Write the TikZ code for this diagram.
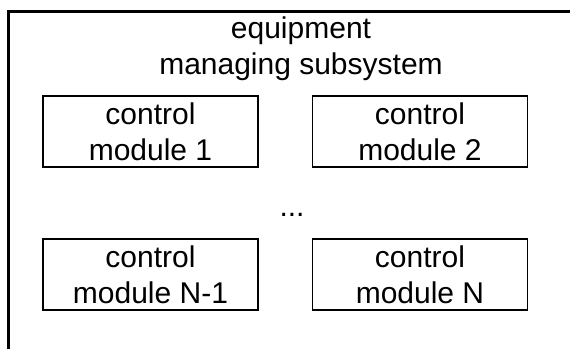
\documentclass[tikz,border=0pt]{standalone}
\usepackage{fontspec}
\setmainfont{Liberation Sans}
\begin{document}
\begin{tikzpicture}[x=1pt,y=-1pt,
  module/.style={draw, line width=1.8pt, minimum width=215pt, minimum height=71pt,
    inner sep=0pt, align=center, font=\fontsize{30}{36}\selectfont},
  label/.style={inner sep=0pt, align=center, font=\fontsize{30}{36}\selectfont}]
\useasboundingbox (0,0) rectangle (570,349);
% subsystem frame, running past the right and bottom edges
\draw[line width=2.4pt] (8.5,349) -- (8.5,11.5) -- (570,11.5);
\node[label] (title) at (301,49) {equipment\\managing subsystem};
\node[module] (m1) at (150.5,131.5) {control\\module 1};
\node[module] (m2) at (420,131.5) {control\\module 2};
\node[label] (dots) at (292,215) {...};
\node[module] (mn1) at (150.5,274.5) {control\\module N-1};
\node[module] (mn) at (420,274.5) {control\\module N};
\end{tikzpicture}
\end{document}
